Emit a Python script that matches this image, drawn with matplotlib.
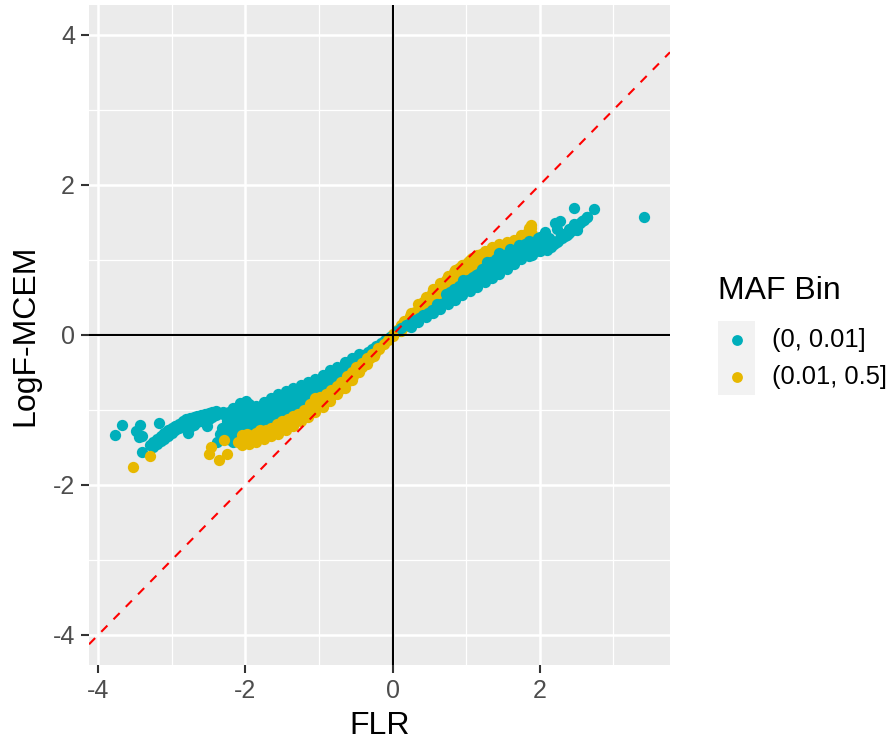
import matplotlib
matplotlib.use("Agg")
import matplotlib.pyplot as plt
from matplotlib.lines import Line2D

plt.rcParams["font.family"] = ["Liberation Sans", "DejaVu Sans"]
plt.rcParams["axes.unicode_minus"] = False

# ── Points : classe (0, 0.01] ──
# points isoles
teal_isole_x = [-3.77, -3.67, -3.49, -3.43, -3.41, -3.45, -3.17, -3.40, -2.52, -2.78, -2.30, 3.41, 2.74, 2.47, 2.28, 2.21, 2.23]
teal_isole_y = [-1.33, -1.20, -1.28, -1.20, -1.35, -1.36, -1.17, -1.56, -1.21, -1.31, -1.05, 1.57, 1.68, 1.70, 1.52, 1.49, 1.41]

# queue gauche
teal_queue_x = [-3.30, -3.25, -3.20, -3.15, -3.10, -3.05, -3.00, -2.95, -2.90, -2.85, -2.80, -2.75, -2.70, -2.65, -2.60, -2.55, -2.50, -2.45, -2.40,
                -3.25, -3.20, -3.15, -3.10, -3.05, -3.00, -2.95, -2.90, -2.85, -2.80, -2.75,
                -2.75, -2.70, -2.65, -2.60, -2.55, -2.50, -2.45, -2.40, -2.35, -2.30, -2.22, -2.17]
teal_queue_y = [-1.46, -1.42, -1.38, -1.34, -1.31, -1.27, -1.24, -1.21, -1.18, -1.15, -1.12, -1.10, -1.09, -1.08, -1.07, -1.05, -1.04, -1.03, -1.01,
                -1.49, -1.45, -1.41, -1.38, -1.34, -1.30, -1.27, -1.24, -1.22, -1.20, -1.18,
                -1.22, -1.20, -1.16, -1.14, -1.16, -1.12, -1.09, -1.07, -1.04, -1.02, -1.02, -0.97]

# amas vers x = -2
teal_amas_x = [-2.39, -2.35, -2.32, -2.28, -2.25, -2.25, -2.25, -2.20, -2.20, -2.20, -2.17, -2.15, -2.15, -2.15, -2.15, -2.10, -2.10, -2.10, -2.10,
               -2.07, -2.05, -2.05, -2.05, -2.05, -2.00, -2.00, -2.00, -1.99, -1.95, -1.95, -1.95, -1.95, -1.90, -1.90, -1.90]
teal_amas_y = [-1.42, -1.32, -1.24, -1.34, -1.38, -1.25, -1.15, -1.40, -1.28, -1.16, -1.42, -1.35, -1.25, -1.12, -0.98, -1.34, -1.22, -1.10, -0.98,
               -0.90, -1.30, -1.18, -1.05, -0.95, -1.28, -1.15, -1.03, -0.88, -1.25, -1.12, -1.00, -0.92, -1.24, -1.12, -1.02]

# bande negative
teal_neg_x = [-1.84, -1.78, -1.72, -1.66, -1.60, -1.54, -1.48, -1.42, -1.36, -1.30, -1.24, -1.18, -1.12, -1.06, -1.00, -0.94, -0.88, -0.82, -0.76, -0.70, -0.64, -0.58, -0.52, -0.46, -0.40, -0.34, -0.28, -0.22, -0.16, -0.10, -0.04,
              -1.84, -1.78, -1.72, -1.66, -1.60, -1.54, -1.48, -1.42, -1.36, -1.30, -1.24, -1.18, -1.12, -1.06, -1.00, -0.94, -0.88, -0.82, -0.76, -0.70, -0.64, -0.58, -0.52, -0.46,
              -1.84, -1.78, -1.72, -1.66, -1.60, -1.54, -1.48, -1.42, -1.36, -1.30, -1.24, -1.18, -1.12, -1.06, -1.00, -0.94, -0.88,
              -1.85, -1.75, -1.65, -1.55, -1.45, -1.35, -1.25, -1.15, -1.05, -0.95, -0.85, -0.75, -0.65, -0.55, -0.45]
teal_neg_y = [-0.99, -0.96, -0.93, -0.90, -0.87, -0.83, -0.80, -0.77, -0.75, -0.72, -0.70, -0.68, -0.65, -0.63, -0.60, -0.57, -0.53, -0.50, -0.47, -0.44, -0.40, -0.37, -0.33, -0.29, -0.26, -0.22, -0.18, -0.14, -0.10, -0.06, -0.03,
              -1.09, -1.06, -1.03, -1.00, -0.97, -0.93, -0.90, -0.87, -0.85, -0.82, -0.80, -0.78, -0.75, -0.73, -0.70, -0.67, -0.63, -0.60, -0.57, -0.54, -0.50, -0.47, -0.43, -0.39,
              -1.19, -1.16, -1.13, -1.10, -1.07, -1.03, -1.00, -0.97, -0.95, -0.92, -0.90, -0.88, -0.85, -0.83, -0.80, -0.77, -0.73,
              -0.94, -0.89, -0.84, -0.78, -0.74, -0.70, -0.66, -0.62, -0.58, -0.53, -0.47, -0.42, -0.36, -0.31, -0.25]

# bande positive
teal_pos_x = [0.06, 0.12, 0.18, 0.24, 0.30, 0.36, 0.42, 0.48, 0.54, 0.60, 0.66, 0.72, 0.78, 0.84, 0.90, 0.96, 1.02, 1.08, 1.14, 1.20, 1.26, 1.32, 1.38, 1.44, 1.50, 1.56, 1.62, 1.68, 1.74, 1.80, 1.86,
              0.72, 0.78, 0.84, 0.90, 0.96, 1.02, 1.08, 1.14, 1.20, 1.26, 1.32, 1.38, 1.44, 1.50, 1.56, 1.62, 1.68, 1.74, 1.80,
              1.09, 1.16, 1.22, 1.28, 1.34, 1.40, 1.44, 1.50, 1.56, 1.60, 1.66, 1.72, 1.78, 1.84, 0.96, 0.82, 0.60,
              0.25, 0.35, 0.45, 0.55, 0.65, 0.75, 0.85, 0.95, 1.05, 1.15, 1.25, 1.35, 1.45, 1.55, 1.65, 1.75, 1.85, 1.90,
              1.44, 1.60, 1.28, 1.72, 1.85, 1.10, 0.96]
teal_pos_y = [0.05, 0.09, 0.13, 0.16, 0.20, 0.23, 0.27, 0.30, 0.34, 0.37, 0.41, 0.45, 0.48, 0.52, 0.56, 0.60, 0.63, 0.66, 0.70, 0.73, 0.76, 0.80, 0.83, 0.86, 0.90, 0.94, 0.98, 1.03, 1.07, 1.12, 1.10,
              0.55, 0.58, 0.62, 0.66, 0.70, 0.73, 0.76, 0.80, 0.83, 0.86, 0.90, 0.93, 0.96, 1.00, 1.04, 1.08, 1.13, 1.17, 1.22,
              0.74, 0.82, 0.88, 0.94, 0.98, 1.02, 1.06, 1.06, 1.08, 1.12, 1.14, 1.17, 1.20, 1.22, 0.70, 0.58, 0.42,
              0.11, 0.17, 0.24, 0.30, 0.35, 0.41, 0.47, 0.53, 0.59, 0.64, 0.71, 0.76, 0.81, 0.88, 0.95, 1.02, 1.05, 1.07,
              1.10, 1.15, 0.97, 1.20, 1.25, 0.78, 0.73]

# queue droite
teal_droite_x = [1.88, 1.92, 1.95, 1.98, 2.02, 2.05, 2.08, 2.10, 2.05, 2.10, 2.15, 2.20, 2.25, 2.30, 2.35, 2.40, 2.45, 2.50, 2.55, 2.60, 2.64, 2.00, 2.07, 2.12, 2.23, 2.37,
                 1.95, 2.00, 2.05, 2.12, 2.17, 2.00, 2.10, 2.28, 2.33, 2.40, 2.46, 2.50, 2.57, 2.64]
teal_droite_y = [1.15, 1.15, 1.22, 1.30, 1.25, 1.22, 1.30, 1.22, 1.16, 1.14, 1.17, 1.22, 1.25, 1.29, 1.32, 1.36, 1.40, 1.44, 1.50, 1.54, 1.58, 1.31, 1.38, 1.18, 1.24, 1.33,
                 1.12, 1.20, 1.30, 1.30, 1.25, 1.12, 1.18, 1.30, 1.35, 1.42, 1.48, 1.40, 1.52, 1.58]

# ── Points : classe (0.01, 0.5] ──
# sous le teal, cote positif
jaune_pos_x = [0.00, 0.06, 0.12, 0.18, 0.24, 0.30, 0.36, 0.42, 0.48, 0.54, 0.60, 0.66, 0.72, 0.78, 0.84, 0.90, 0.96, 1.02, 1.08, 1.14, 1.20, 1.26, 1.32, 1.38, 1.44, 1.50, 1.56, 1.62, 1.68, 1.74, 1.78, 1.84, 1.88, 1.90, 1.80,
               0.12, 0.18, 0.24, 0.30, 0.36, 0.42, 0.48, 0.54, 0.60, 0.66, 0.72, 0.78, 0.84, 0.90, 0.96, 1.02, 1.08, 1.14, 1.20, 1.26, 1.32, 1.38, 1.44, 1.50, 1.56, 1.62, 1.68, 1.74,
               0.78, 0.84, 0.90, 0.96, 1.02, 1.08, 1.14, 1.20, 1.26,
               0.15, 0.25, 0.35, 0.45, 0.55, 0.65, 0.75, 0.85, 0.95, 1.05, 1.15, 1.25, 1.35, 1.45, 1.55, 1.65, 1.75, 1.85, 1.88]
jaune_pos_y = [0.01, 0.07, 0.13, 0.19, 0.25, 0.31, 0.38, 0.44, 0.50, 0.56, 0.62, 0.68, 0.74, 0.79, 0.84, 0.89, 0.94, 0.98, 1.03, 1.06, 1.08, 1.10, 1.13, 1.15, 1.17, 1.19, 1.21, 1.23, 1.25, 1.29, 1.33, 1.38, 1.43, 1.35, 1.25,
               0.06, 0.12, 0.17, 0.23, 0.29, 0.34, 0.40, 0.46, 0.51, 0.57, 0.63, 0.68, 0.73, 0.78, 0.83, 0.87, 0.92, 0.96, 0.99, 1.02, 1.05, 1.08, 1.10, 1.12, 1.14, 1.16, 1.18, 1.21,
               0.60, 0.64, 0.68, 0.72, 0.77, 0.82, 0.86, 0.90, 0.95,
               0.19, 0.30, 0.41, 0.51, 0.61, 0.70, 0.79, 0.87, 0.93, 1.00, 1.07, 1.12, 1.18, 1.21, 1.24, 1.27, 1.33, 1.43, 1.47]

# sur le teal, points isoles et bande negative
jaune_neg_x = [-3.52, -3.29, -2.47, -2.50, -2.36, -2.25, -2.29,
               -2.10, -2.04, -1.98, -1.92, -1.86, -1.80, -1.74, -1.68, -1.62, -1.56, -1.50, -1.44, -1.38, -1.32, -1.26, -1.20, -1.14, -1.08, -1.02, -0.96, -0.90, -0.84, -0.78, -0.72, -0.66, -0.60, -0.54, -0.48, -0.42, -0.36, -0.30, -0.24, -0.18, -0.12, -0.06, 0.00,
               -2.05, -1.98, -1.90, -1.85, -1.80, -1.72, -1.65, -1.57, -1.50, -1.42, -1.35, -1.28, -1.20, -1.12, -1.05, -0.98, -0.90, -0.83, -0.76, -0.70, -0.62, -0.55, -0.49, -0.42, -0.35, -0.28, -0.20,
               -2.05, -1.95, -1.85, -1.75, -1.65, -1.55, -1.45, -1.35, -1.25, -1.15, -1.05, -0.95, -0.85, -0.75, -0.65, -0.55, -0.45, -0.35, -0.25]
jaune_neg_y = [-1.76, -1.61, -1.49, -1.59, -1.66, -1.58, -1.40,
               -1.42, -1.41, -1.40, -1.38, -1.37, -1.35, -1.33, -1.31, -1.28, -1.26, -1.23, -1.20, -1.16, -1.13, -1.10, -1.07, -1.04, -1.00, -0.96, -0.92, -0.87, -0.81, -0.76, -0.72, -0.67, -0.61, -0.55, -0.49, -0.43, -0.37, -0.31, -0.24, -0.18, -0.12, -0.06, -0.01,
               -1.33, -1.32, -1.33, -1.30, -1.27, -1.26, -1.24, -1.18, -1.15, -1.12, -1.08, -1.05, -1.00, -0.92, -0.84, -0.82, -0.78, -0.73, -0.68, -0.63, -0.55, -0.49, -0.43, -0.37, -0.31, -0.25, -0.17,
               -1.47, -1.45, -1.43, -1.39, -1.35, -1.32, -1.26, -1.21, -1.15, -1.09, -1.03, -0.96, -0.88, -0.79, -0.70, -0.60, -0.49, -0.39, -0.28]

# Legende
titre_legende = "MAF Bin"
labels_legende = ["(0, 0.01]", "(0.01, 0.5]"]

TEAL = "#00AFBB"
JAUNE = "#E7B800"

fig = plt.figure(figsize=(8.92, 7.42), dpi=100)
W, H = 892, 742
ax = fig.add_axes([89 / W, 1 - 665 / H, (670 - 89) / W, (665 - 5) / H])
ax.set_facecolor("#EBEBEB")
for s in ax.spines.values():
    s.set_visible(False)

ax.set_xlim(-4.124, 3.77)
ax.set_ylim(-4.4, 4.4)

# Grille facon ggplot
ax.set_xticks([-4, -2, 0, 2])
ax.set_yticks([-4, -2, 0, 2, 4])
ax.set_xticks([-3, -1, 1, 3], minor=True)
ax.set_yticks([-3, -1, 1, 3], minor=True)
ax.grid(True, which="major", color="white", linewidth=1.8)
ax.grid(True, which="minor", color="white", linewidth=0.9)
ax.set_axisbelow(True)
ax.tick_params(which="major", length=6, width=1.5, color="#333333", labelcolor="#4D4D4D",
               labelsize=18, pad=4)
ax.tick_params(which="minor", length=0)

# Nuage de points
teal_x = teal_isole_x + teal_queue_x + teal_amas_x + teal_neg_x + teal_pos_x + teal_droite_x
teal_y = teal_isole_y + teal_queue_y + teal_amas_y + teal_neg_y + teal_pos_y + teal_droite_y
ax.scatter(jaune_pos_x, jaune_pos_y, s=66, color=JAUNE, linewidths=0, zorder=2)
ax.scatter(teal_x, teal_y, s=66, color=TEAL, linewidths=0, zorder=3)
ax.scatter(jaune_neg_x, jaune_neg_y, s=66, color=JAUNE, linewidths=0, zorder=4)

# Axes et bissectrice
ax.axhline(0, color="black", linewidth=1.5, zorder=5)
ax.axvline(0, color="black", linewidth=1.5, zorder=5)
ax.plot([-4.124, 3.77], [-4.124, 3.77], color="red", linewidth=1.5, linestyle=(0, (4.2, 4.2)), zorder=6)

ax.set_xlabel("FLR", fontsize=23, labelpad=6)
ax.set_ylabel("LogF-MCEM", fontsize=23, labelpad=9)

# Legende dessinee a la main
cle = fig.add_axes([718 / W, 1 - 395 / H, 37 / W, 74 / H])
cle.set_facecolor("#F2F2F2")
cle.set_xlim(0, 1)
cle.set_ylim(0, 2)
cle.set_xticks([])
cle.set_yticks([])
for s in cle.spines.values():
    s.set_visible(False)
for i, (lab, c) in enumerate(zip(labels_legende, [TEAL, JAUNE])):
    cle.add_line(Line2D([0.5], [1.5 - i], marker="o", markersize=7.8, color=c, markeredgewidth=0, linestyle="none"))
    fig.text(772 / W, 1 - (340 + 37 * i) / H, lab, fontsize=18.4, color="black", va="center", ha="left")
fig.text(718 / W, 1 - 291 / H, titre_legende, fontsize=23, color="black", va="center", ha="left")

fig.savefig("out.png", dpi=100)
